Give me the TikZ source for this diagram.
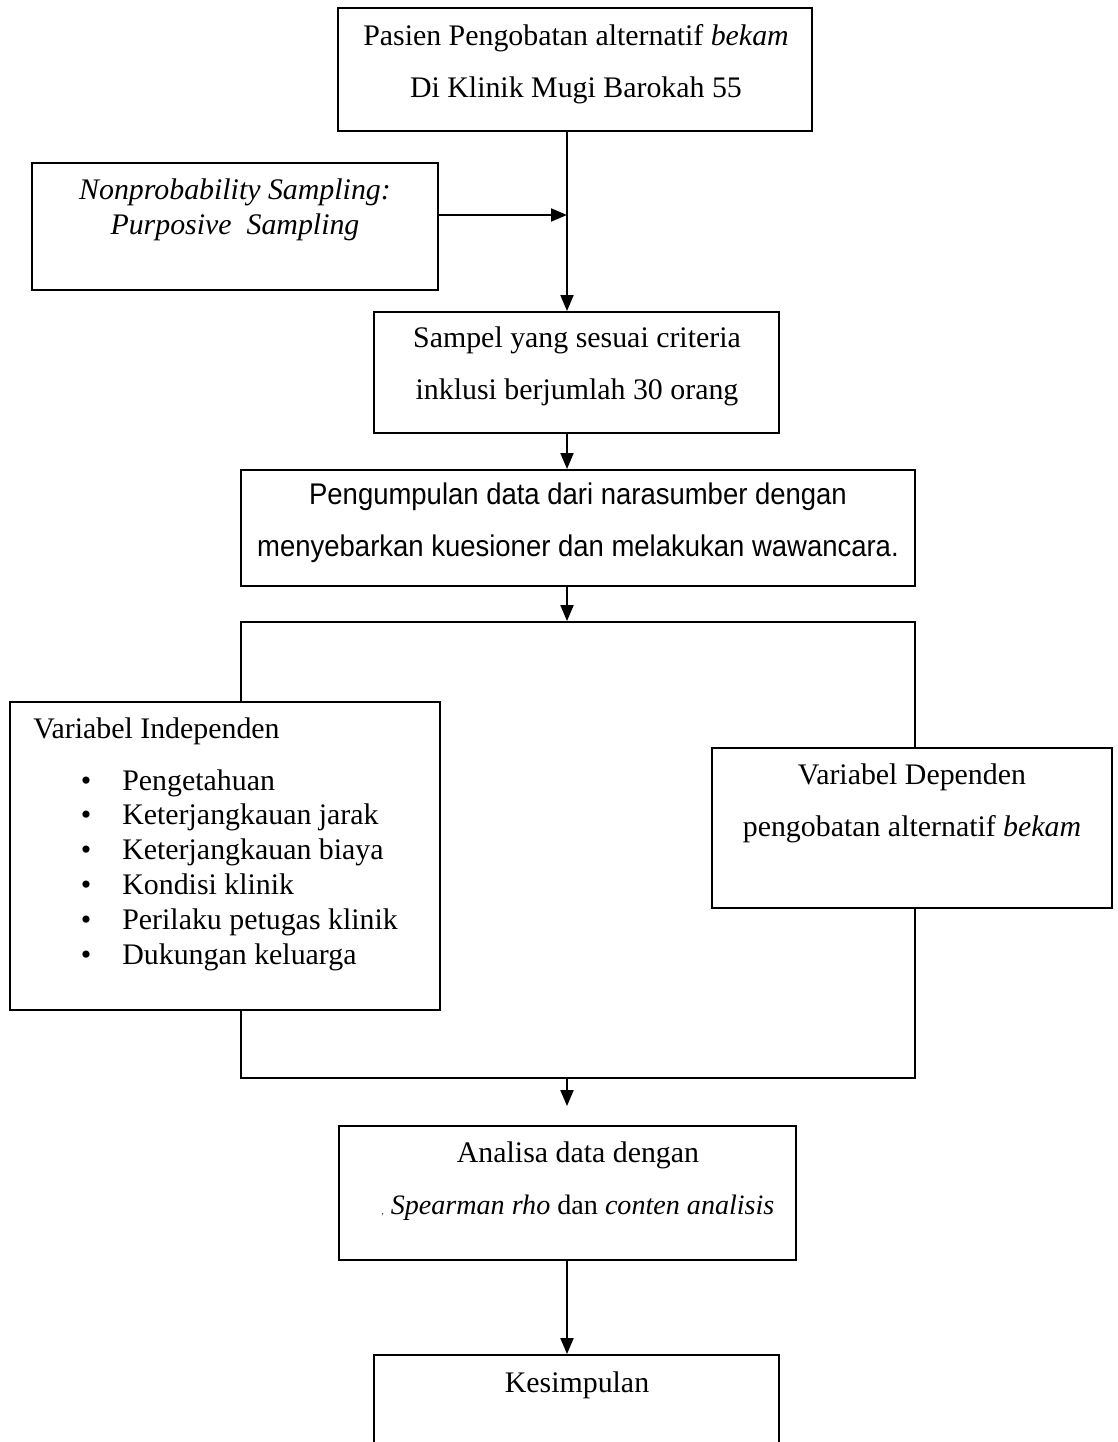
\documentclass[tikz,border=0pt]{standalone}
\usepackage{fontspec}
\setmainfont{Liberation Serif}
\newfontfamily\narrowsans[FakeStretch=0.92]{Liberation Sans}
\usetikzlibrary{arrows.meta,positioning}
\tikzset{
  box/.style={draw, line width=1.1pt, fill=white, inner sep=0pt},
  txt/.style={inner sep=0pt, align=center, font=\fontsize{17}{29.6}\selectfont},
  arr/.style={->, line width=1.1pt},
}
\begin{document}
\begin{tikzpicture}[x=0.02cm, y=-0.02cm, >={Triangle[length=3.2mm,width=2.6mm]}]
  \useasboundingbox (0,0) rectangle (1117,1442);
  \clip (0,0) rectangle (1117,1442);
  \coordinate (spine) at (567,0);
  \coordinate (join) at (567,215);
  \node[box, minimum width=9.48cm, minimum height=2.46cm] (pasien) at (575,69.5) {};
  \node[txt] (pasientxt) at (576,64) {Pasien Pengobatan alternatif \textit{bekam}\\Di Klinik Mugi Barokah 55};
  \node[box, minimum width=8.12cm, minimum height=2.54cm] (samp) at (235,226.5) {};
  \node[txt, font=\fontsize{17}{19.9}\selectfont\itshape] (samptxt) at (235,210) {Nonprobability Sampling:\\Purposive\ \ Sampling};
  \node[box, minimum width=8.10cm, minimum height=2.42cm] (sampel) at (576.5,372.5) {};
  \node[txt] (sampeltxt) at (577,366) {Sampel yang sesuai criteria\\inklusi berjumlah 30 orang};
  \node[box, minimum width=13.48cm, minimum height=2.32cm] (kumpul) at (578,528) {};
  \node[txt, font=\fontsize{17}{29.6}\selectfont\narrowsans] (kumpultxt) at (578,523) {Pengumpulan data dari narasumber dengan\\menyebarkan kuesioner dan melakukan wawancara.};
  \node[box, fill=none, minimum width=13.48cm, minimum height=9.12cm] (frame) at (578,850) {};
  \node[box, minimum width=8.6cm, minimum height=6.16cm] (indep) at (225,856) {};
  \node[txt, anchor=base west] (indeptxt) at (33,738) {Variabel Independen};
  \foreach \itm [count=\i] in {Pengetahuan, Keterjangkauan jarak, Keterjangkauan biaya, Kondisi klinik, Perilaku petugas klinik, Dukungan keluarga}{
    \node[txt, anchor=base] (dot\i) at (86,755.2+34.8*\i) {\textbullet};
    \node[txt, anchor=base west] (item\i) at (122,755.2+34.8*\i) {\itm};
  }
  \node[box, minimum width=8.0cm, minimum height=3.2cm] (dep) at (912,828) {};
  \node[txt] (deptxt) at (912,803) {Variabel Dependen\\pengobatan alternatif \textit{bekam}};
  \node[box, minimum width=9.14cm, minimum height=2.68cm] (analisa) at (567.5,1193) {};
  \node[txt] (analisatxt) at (578,1181) {Analisa data dengan\\{\fontsize{16}{16}\selectfont{\tiny,} \textit{Spearman rho} dan \textit{conten analisis}}};
  \node[box, minimum width=8.10cm, minimum height=4cm] (simpul) at (576.5,1455) {};
  \node[txt] (simpultxt) at (577,1385) {Kesimpulan};
  \draw[arr] (pasien.south -| spine) -- (sampel.north -| spine);
  \draw[arr] (samp.east |- join) -- (join);
  \draw[arr] (sampel.south -| spine) -- (kumpul.north -| spine);
  \draw[arr] (kumpul.south -| spine) -- (frame.north -| spine);
  \draw[arr, shorten >=0.38cm] (frame.south -| spine) -- (analisa.north -| spine);
  \draw[arr] (analisa.south -| spine) -- (simpul.north -| spine);
\end{tikzpicture}
\end{document}
